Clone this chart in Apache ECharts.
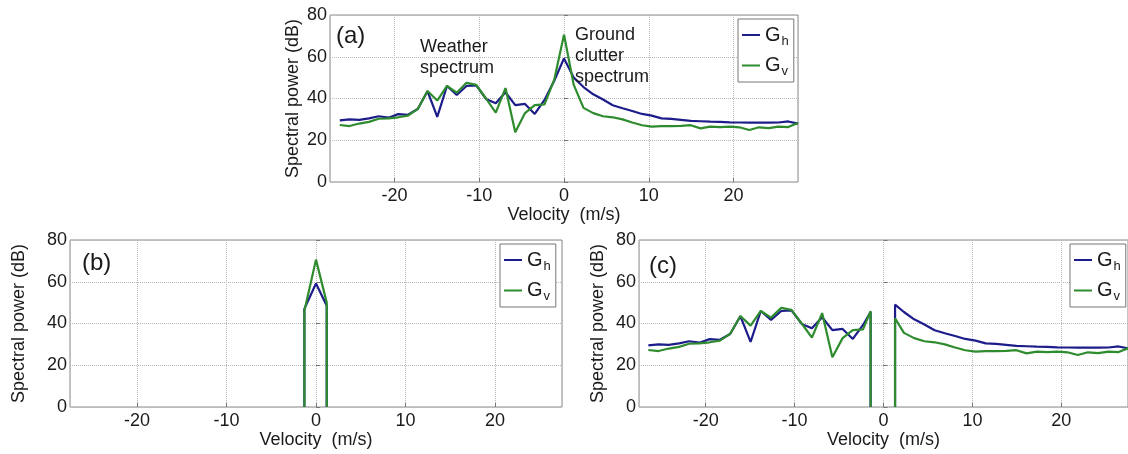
<!DOCTYPE html>
<html>
<head>
<meta charset="utf-8">
<title>Spectral power vs velocity</title>
<script src="https://cdn.jsdelivr.net/npm/echarts@6/dist/echarts.min.js"></script>
<style>
  html, body { margin: 0; padding: 0; background: #fff; }
  #chart { width: 1128px; height: 454px; }
</style>
</head>
<body>
<div id="chart"></div>
<script>
// velocity bins (m/s)
const velocity = [-26.45, -25.3, -24.15, -23, -21.85, -20.7, -19.55, -18.4, -17.25, -16.1,
  -14.95, -13.8, -12.65, -11.5, -10.35, -9.2, -8.05, -6.9, -5.75, -4.6, -3.45, -2.3, -1.15,
  0, 1.15, 2.3, 3.45, 4.6, 5.75, 6.9, 8.05, 9.2, 10.35, 11.5, 12.65, 13.8, 14.95, 16.1,
  17.25, 18.4, 19.55, 20.7, 21.85, 23, 24.15, 25.3, 26.45, 27.6];

// (a) full spectrum, dB
const ghA = [29.5, 30, 29.8, 30.5, 31.5, 30.8, 32.5, 32.2, 35, 43.5,
  31.2, 46, 41.7, 46, 46.3, 39.8, 37.7, 43, 36.8, 37.4, 32.6, 39.3, 48.5,
  59.2, 50, 45.5, 42, 39.5, 36.8, 35.3, 34, 32.6, 31.8, 30.5, 30.2, 29.8, 29.3, 29.1,
  28.9, 28.8, 28.6, 28.5, 28.4, 28.4, 28.4, 28.5, 29, 28];
const gvA = [27.3, 26.8, 28, 28.8, 30.3, 30.5, 31, 31.8, 35, 43.6,
  39, 46, 42.8, 47.5, 46.5, 40, 33.2, 45, 23.8, 33, 36.8, 37.2, 49,
  70.6, 46.5, 35.5, 33, 31.5, 31, 30, 28.5, 27.2, 26.5, 26.8, 26.8, 26.9, 27.2, 25.7,
  26.5, 26.3, 26.5, 26.2, 24.9, 26.2, 25.8, 26.5, 26.3, 28.3];

// (b) clutter part only
const velB = [-1.3, -1.3, 0, 1.2, 1.2];
const ghB = [0, 47, 59.2, 48.5, 0];
const gvB = [0, 46, 70.6, 50, 0];

// (c) clutter notched out: edges of the notch
const gapVel = [-1.45, 1.3];
const ghGap = [45.5, 49];
const gvGap = [45.9, 42.5];

const BLUE = '#1c1c8a';
const GREEN = '#2e8b2e';
const FONT = 'Liberation Sans, Arial, sans-serif';
const TXT = '#1a1a1a';

function pairs(xs, ys) {
  return xs.map((x, i) => [x, ys[i]]);
}

// keep the outer part, drop the notch to zero on both sides
function notched(ys, edge) {
  const out = [];
  velocity.forEach((v, i) => { if (v < -2) out.push([v, ys[i]]); });
  out.push([gapVel[0], edge[0]], [gapVel[0], 0], [0, '-'], [gapVel[1], 0], [gapVel[1], edge[1]]);
  velocity.forEach((v, i) => { if (v > 2) out.push([v, ys[i]]); });
  return out;
}

function gridBox(left, top, width, height) {
  return { left, top, width, height, show: true, borderColor: '#8a8a8a', borderWidth: 1, backgroundColor: '#fff' };
}

function xAx(gi, lim, gap) {
  return {
    type: 'value', gridIndex: gi, min: -lim, max: lim,
    name: 'Velocity  (m/s)', nameLocation: 'middle', nameGap: gap,
    nameTextStyle: { fontFamily: FONT, fontSize: 18, color: TXT },
    axisLine: { show: false },
    axisTick: { show: true, inside: true, length: 4, lineStyle: { color: '#777' } },
    axisLabel: {
      margin: 5, fontFamily: FONT, fontSize: 18, color: TXT,
      showMinLabel: false, showMaxLabel: false,
      formatter: v => (Math.abs(v % 10) < 1e-6 ? String(v) : '')
    },
    splitLine: { show: true, lineStyle: { type: 'dotted', color: '#b8b8b8', width: 1 } }
  };
}

function yAx(gi, gap) {
  return {
    type: 'value', gridIndex: gi, min: 0, max: 80, interval: 20,
    name: 'Spectral power (dB)', nameLocation: 'middle', nameGap: gap,
    nameTextStyle: { fontFamily: FONT, fontSize: 18, color: TXT },
    axisLine: { show: false },
    axisTick: { show: true, inside: true, length: 4, lineStyle: { color: '#777' } },
    axisLabel: { margin: 3, fontFamily: FONT, fontSize: 18, color: TXT },
    splitLine: { show: true, lineStyle: { type: 'dotted', color: '#b8b8b8', width: 1 } }
  };
}

function legendBox(left, top) {
  return {
    data: ['Gh', 'Gv'], left, top, orient: 'vertical',
    icon: 'rect', itemWidth: 18, itemHeight: 2, itemGap: 8,
    backgroundColor: '#fff', borderColor: '#777', borderWidth: 1,
    padding: [6, 5, 4, 4], selectedMode: false,
    formatter: name => '{g|G}{s|' + (name === 'Gh' ? 'h' : 'v') + '}',
    textStyle: {
      color: TXT,
      rich: {
        g: { fontFamily: FONT, fontSize: 20, color: TXT },
        s: { fontFamily: FONT, fontSize: 13, color: TXT, padding: [12, 0, 0, 1] }
      }
    }
  };
}

function line(name, color, gi, data) {
  return {
    name, type: 'line', xAxisIndex: gi, yAxisIndex: gi, data,
    showSymbol: false, symbol: 'none', connectNulls: false,
    lineStyle: { color, width: 2.2 }, itemStyle: { color }
  };
}

function label(text, left, top, size) {
  return {
    type: 'text', left, top, z: 100,
    style: { text, font: size + 'px ' + FONT, fill: TXT, lineHeight: 21 }
  };
}

const chart = echarts.init(document.getElementById('chart'));
chart.setOption({
  animation: false,
  backgroundColor: '#fff',
  grid: [
    gridBox(330, 15, 468, 167),
    gridBox(70, 240, 492, 167),
    gridBox(639, 240, 492, 167)
  ],
  xAxis: [xAx(0, 27.6, 21), xAx(1, 27.5, 23), xAx(2, 27.5, 23)],
  yAxis: [yAx(0, 28), yAx(1, 42), yAx(2, 32)],
  legend: [legendBox(738, 19), legendBox(500, 244), legendBox(1070, 244)],
  series: [
    line('Gh', BLUE, 0, pairs(velocity, ghA)),
    line('Gv', GREEN, 0, pairs(velocity, gvA)),
    line('Gh', BLUE, 1, pairs(velB, ghB)),
    line('Gv', GREEN, 1, pairs(velB, gvB)),
    line('Gh', BLUE, 2, notched(ghA, ghGap)),
    line('Gv', GREEN, 2, notched(gvA, gvGap))
  ],
  graphic: [
    label('(a)', 336, 24, 24),
    label('Weather\nspectrum', 420, 37, 18),
    label('Ground\nclutter\nspectrum', 575, 25, 18),
    label('(b)', 82, 251, 24),
    label('(c)', 649, 254, 24)
  ]
});
</script>
</body>
</html>
